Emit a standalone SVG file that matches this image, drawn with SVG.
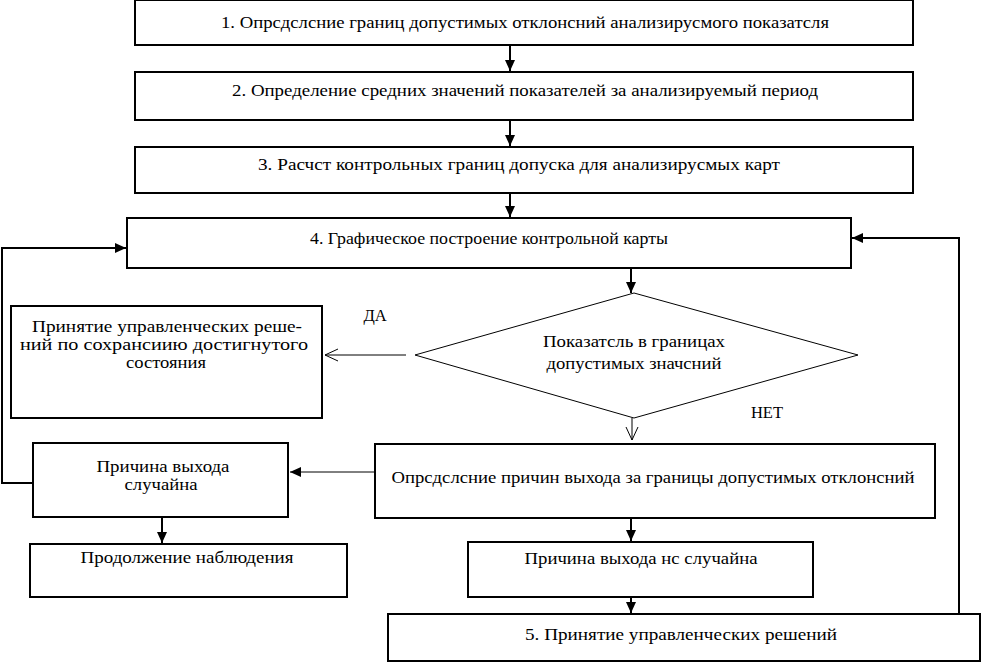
<svg xmlns="http://www.w3.org/2000/svg" width="982" height="663" viewBox="0 0 982 663">
<style>
.box{fill:#fff;stroke:#000;stroke-width:2}
.dia{fill:#fff;stroke:#000;stroke-width:1}
.t{font-family:"Liberation Serif","Times New Roman",serif;font-size:16.5px;fill:#000;text-anchor:middle}
.c{fill:none;stroke:#000;stroke-width:2}
.thin{fill:none;stroke:#000;stroke-width:1}
</style>
<defs>
<marker id="a" markerUnits="userSpaceOnUse" markerWidth="12" markerHeight="10" refX="11" refY="5" orient="auto">
<path d="M0,0 L11,5 L0,10 Z" fill="#000"/>
</marker>
<marker id="o" markerUnits="userSpaceOnUse" markerWidth="14" markerHeight="14" refX="13" refY="7" orient="auto">
<path d="M0,1 L13,7 L0,13" fill="none" stroke="#000" stroke-width="1"/>
</marker>
</defs>
<rect width="982" height="663" fill="#fff"/>
<g id="connectors">
<line class="c" x1="510" y1="45" x2="510" y2="71" marker-end="url(#a)"/>
<line class="c" x1="510" y1="120" x2="510" y2="146" marker-end="url(#a)"/>
<line class="c" x1="510" y1="193" x2="510" y2="217" marker-end="url(#a)"/>
<line class="c" x1="631" y1="268" x2="631" y2="293" marker-end="url(#a)"/>
<line class="thin" x1="406" y1="355" x2="325" y2="355" marker-end="url(#o)"/>
<line class="thin" x1="632" y1="418" x2="632" y2="440" marker-end="url(#o)"/>
<line class="thin" x1="375" y1="472" x2="290" y2="472" marker-end="url(#a)"/>
<line class="c" x1="631" y1="518" x2="631" y2="541" marker-end="url(#a)"/>
<line class="c" x1="631" y1="597" x2="631" y2="613" marker-end="url(#a)"/>
<line class="c" x1="162" y1="517" x2="162" y2="543" marker-end="url(#a)"/>
<polyline class="c" points="33,483 2,483 2,248 126,248" marker-end="url(#a)"/>
<polyline class="c" points="959,614 959,238 852,238" marker-end="url(#a)"/>
</g>
<g id="n1"><rect class="box" x="135" y="0" width="778" height="45"/><text class="t" x="525" y="28" textLength="608" lengthAdjust="spacingAndGlyphs">1. Опрсдслсние границ допустимых отклонсний анализирусмого показатсля</text></g>
<g id="n2"><rect class="box" x="135" y="72" width="778" height="48"/><text class="t" x="525" y="96" textLength="586" lengthAdjust="spacingAndGlyphs">2. Определение средних значений показателей за анализируемый период</text></g>
<g id="n3"><rect class="box" x="135" y="147" width="778" height="46"/><text class="t" x="519" y="170" textLength="522" lengthAdjust="spacingAndGlyphs">3. Расчст контрольных границ допуска для анализирусмых карт</text></g>
<g id="n4"><rect class="box" x="127" y="218" width="724" height="50"/><text class="t" x="489" y="244" textLength="358" lengthAdjust="spacingAndGlyphs">4. Графическое построение контрольной карты</text></g>
<g id="d1"><polygon class="dia" points="415,355 634,293 858,355 634,418"/><text class="t" x="634" y="347" textLength="182" lengthAdjust="spacingAndGlyphs">Показатсль в границах</text><text class="t" x="634" y="369" textLength="175" lengthAdjust="spacingAndGlyphs">допустимых значсний</text></g>
<g id="n5"><rect class="box" x="11" y="306" width="311" height="112"/><text class="t" x="167" y="332" textLength="270" lengthAdjust="spacingAndGlyphs">Принятие управленческих реше-</text><text class="t" x="164" y="350" textLength="288" lengthAdjust="spacingAndGlyphs">ний по сохрансиию достигнутого</text><text class="t" x="166" y="368" textLength="80" lengthAdjust="spacingAndGlyphs">состояния</text></g>
<g id="l1"><text class="t" x="375" y="321">ДА</text></g>
<g id="l2"><text class="t" x="767" y="418">НЕТ</text></g>
<g id="n6"><rect class="box" x="33" y="443" width="255" height="74"/><text class="t" x="163" y="472" textLength="133" lengthAdjust="spacingAndGlyphs">Причина выхода</text><text class="t" x="161" y="490" textLength="73" lengthAdjust="spacingAndGlyphs">случайна</text></g>
<g id="n7"><rect class="box" x="30" y="544" width="317" height="53"/><text class="t" x="187" y="563" textLength="213" lengthAdjust="spacingAndGlyphs">Продолжение наблюдения</text></g>
<g id="n8"><rect class="box" x="375" y="444" width="560" height="74"/><text class="t" x="653" y="483" textLength="523" lengthAdjust="spacingAndGlyphs">Опрсдслсние причин выхода за границы допустимых отклонсний</text></g>
<g id="n9"><rect class="box" x="468" y="542" width="345" height="55"/><text class="t" x="641" y="564" textLength="233" lengthAdjust="spacingAndGlyphs">Причина выхода нс случайна</text></g>
<g id="n10"><rect class="box" x="388" y="614" width="592" height="47"/><text class="t" x="681" y="640" textLength="312" lengthAdjust="spacingAndGlyphs">5. Принятие управленческих решений</text></g>
</svg>
